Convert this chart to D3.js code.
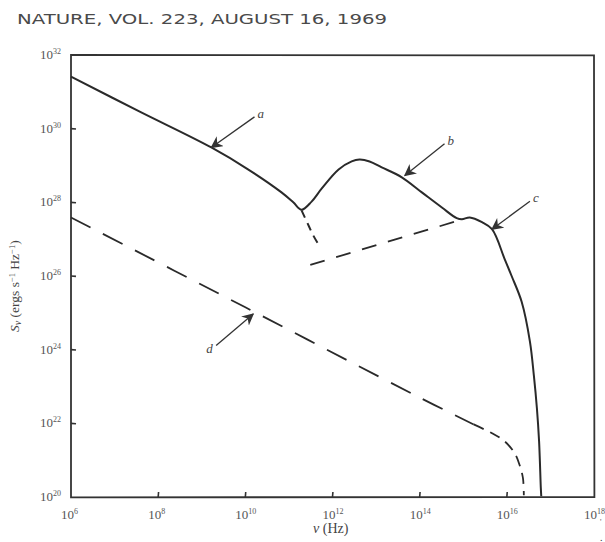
<!DOCTYPE html>
<html>
<head>
<meta charset="utf-8">
<script src="https://cdn.jsdelivr.net/npm/d3@7"></script>
<style>
  body { margin: 0; background: #fff; }
  svg { display: block; }
</style>
</head>
<body>
<div id="chart"></div>
<script>
// values are log10 exponents: [log10 nu, log10 S]
const curveAB = [
  [6.0, 31.41], [7.6, 30.45], [9.22, 29.49], [10.07, 28.89], [10.83, 28.27],
  [11.10, 28.0], [11.29, 27.80], [11.52, 28.02], [11.75, 28.37], [12.14, 28.89],
  [12.44, 29.11], [12.62, 29.16], [12.85, 29.11], [13.13, 28.95], [13.59, 28.68],
  [14.05, 28.27], [14.51, 27.86], [14.85, 27.57], [14.97, 27.54], [15.15, 27.59],
  [15.43, 27.46], [15.66, 27.27], [15.95, 26.46], [16.11, 26.0], [16.34, 25.30],
  [16.53, 24.22], [16.62, 23.30], [16.69, 22.41], [16.74, 21.51], [16.78, 20.24],
  [16.79, 20.02]
];
const curveAext = [[11.29, 27.78], [11.42, 27.45], [11.55, 27.12], [11.70, 26.81]];
const curveC = [[11.49, 26.30], [14.85, 27.49]];
const curveD = [[6.0, 27.59], [10.0, 25.15], [14.0, 22.70], [15.24, 21.97]];
const curveDtail = [
  [15.24, 21.97], [15.66, 21.73], [15.95, 21.51], [16.18, 21.19], [16.30, 20.84],
  [16.37, 20.51], [16.39, 20.05]
];

const xTicks = [6, 8, 10, 12, 14, 16, 18];
const yTicks = [20, 22, 24, 26, 28, 30, 32];

// annotation arrows: label, tail, tip
const notes = [
  { label: "a", tail: [10.21, 30.32], tip: [9.22, 29.49] },
  { label: "b", tail: [14.57, 29.59], tip: [13.66, 28.73] },
  { label: "c", tail: [16.53, 28.03], tip: [15.66, 27.27] },
  { label: "d", tail: [9.33, 24.11], tip: [10.18, 24.97] }
];

const W = 605, H = 542;
const svg = d3.select("#chart").append("svg")
  .attr("width", W).attr("height", H);

const x = d3.scaleLinear().domain([6, 18]).range([71, 594]);
const y = d3.scaleLinear().domain([20, 32]).range([497, 55]);

const ink = "#2a2a2a";
const frameInk = "#333";
const tickFont = "Liberation Serif, DejaVu Serif, serif";

// header line of the journal page
svg.append("text")
  .attr("x", 17).attr("y", 24)
  .attr("font-family", "DejaVu Sans, sans-serif")
  .attr("font-size", 14.5)
  .attr("fill", "#4a4a4a")
  .attr("textLength", 370)
  .attr("lengthAdjust", "spacingAndGlyphs")
  .text("NATURE, VOL. 223, AUGUST 16, 1969");

// frame: hand-ruled box, each side very slightly off true
const skew = 0.4;
const framePath = d3.path();
framePath.moveTo(x(6), y(32));
framePath.lineTo(x(18), y(32) + skew);
framePath.lineTo(x(18) + skew, y(20));
framePath.lineTo(x(6), y(20) + skew);
framePath.closePath();
svg.append("path")
  .attr("d", framePath.toString())
  .attr("fill", "none").attr("stroke", frameInk).attr("stroke-width", 1.8);

// inward ticks
svg.selectAll("line.xt").data(xTicks.slice(1, -1)).enter().append("line")
  .attr("class", "xt")
  .attr("x1", d => x(d)).attr("x2", d => x(d) + 0.4)
  .attr("y1", y(20)).attr("y2", y(20) - 5)
  .attr("stroke", frameInk).attr("stroke-width", 1.6);
svg.selectAll("line.yt").data(yTicks.slice(1, -1)).enter().append("line")
  .attr("class", "yt")
  .attr("x1", x(6)).attr("x2", x(6) + 5)
  .attr("y1", d => y(d)).attr("y2", d => y(d) + 0.4)
  .attr("stroke", frameInk).attr("stroke-width", 1.6);

const xl = svg.selectAll("text.xl").data(xTicks).enter().append("text")
  .attr("class", "xl")
  .attr("x", d => x(d) - 10).attr("y", 519)
  .attr("font-family", tickFont).attr("font-size", 13).attr("fill", "#555");
xl.append("tspan").text("10");
xl.append("tspan").attr("dy", -5).attr("font-size", 8).text(d => d);

const yl = svg.selectAll("text.yl").data(yTicks).enter().append("text")
  .attr("class", "yl")
  .attr("x", 61).attr("y", d => y(d) + 4)
  .attr("text-anchor", "end")
  .attr("font-family", tickFont).attr("font-size", 13).attr("fill", "#555");
yl.append("tspan").text("10");
yl.append("tspan").attr("dy", -5).attr("font-size", 8).text(d => d);

// axis titles
const xTitle = svg.append("text")
  .attr("x", 313).attr("y", 533)
  .attr("font-family", tickFont).attr("font-size", 14).attr("fill", "#444");
xTitle.append("tspan").attr("font-style", "italic").text("ν");
xTitle.append("tspan").text(" (Hz)");

const yTitle = svg.append("text")
  .attr("transform", "translate(19,332) rotate(-90)")
  .attr("font-family", tickFont).attr("font-size", 13.5).attr("fill", "#444");
yTitle.append("tspan").attr("font-style", "italic").text("S");
yTitle.append("tspan").attr("font-style", "italic").attr("font-size", 10).attr("dy", 2).text("ν");
yTitle.append("tspan").attr("dy", -2).text(" (ergs s");
yTitle.append("tspan").attr("font-size", 8.5).attr("dy", -4).text("−1");
yTitle.append("tspan").attr("dy", 4).text(" Hz");
yTitle.append("tspan").attr("font-size", 8.5).attr("dy", -4).text("−1");
yTitle.append("tspan").attr("dy", 4).text(")");

// stray marks at page edge
svg.append("text").attr("x", 600).attr("y", 525)
  .attr("font-family", tickFont).attr("font-size", 8).attr("fill", "#555").text("'");
svg.append("text").attr("x", 600).attr("y", 541)
  .attr("font-family", tickFont).attr("font-size", 10).attr("fill", "#333").text(".");

// curves
const smooth = d3.line()
  .x(d => x(d[0])).y(d => y(d[1]))
  .curve(d3.curveCatmullRom.alpha(0.5));

svg.append("path").datum(curveAB)
  .attr("d", smooth)
  .attr("fill", "none").attr("stroke", ink).attr("stroke-width", 2)
  .attr("stroke-linejoin", "round");

svg.append("path").datum(curveAext)
  .attr("d", smooth)
  .attr("fill", "none").attr("stroke", ink).attr("stroke-width", 2)
  .attr("stroke-dasharray", "8,6");

svg.append("path").datum(curveC)
  .attr("d", smooth)
  .attr("fill", "none").attr("stroke", ink).attr("stroke-width", 1.8)
  .attr("stroke-dasharray", "15,12");

svg.append("path").datum(curveD)
  .attr("d", smooth)
  .attr("fill", "none").attr("stroke", ink).attr("stroke-width", 1.8)
  .attr("stroke-dasharray", "22,14");

svg.append("path").datum(curveDtail)
  .attr("d", smooth)
  .attr("fill", "none").attr("stroke", ink).attr("stroke-width", 1.8)
  .attr("stroke-dasharray", "11,7");

// arrows
svg.append("defs").append("marker")
  .attr("id", "head")
  .attr("viewBox", "0 0 10 10")
  .attr("refX", 9).attr("refY", 5)
  .attr("markerWidth", 12).attr("markerHeight", 12)
  .attr("markerUnits", "userSpaceOnUse")
  .attr("orient", "auto")
  .append("path").attr("d", "M0,0 L10,5 L0,10 L3,5 Z").attr("fill", "#333");

svg.selectAll("line.arrow").data(notes).enter().append("line")
  .attr("class", "arrow")
  .attr("x1", d => x(d.tail[0])).attr("y1", d => y(d.tail[1]))
  .attr("x2", d => x(d.tip[0])).attr("y2", d => y(d.tip[1]))
  .attr("stroke", "#333").attr("stroke-width", 1.3)
  .attr("marker-end", "url(#head)");

svg.selectAll("text.note").data(notes).enter().append("text")
  .attr("class", "note")
  .attr("x", d => x(d.tail[0]) + (d.label === "d" ? -10 : 3))
  .attr("y", d => y(d.tail[1]) + (d.label === "d" ? 7 : 1))
  .attr("font-family", tickFont).attr("font-style", "italic")
  .attr("font-size", 13).attr("fill", "#444")
  .text(d => d.label);
</script>
</body>
</html>
